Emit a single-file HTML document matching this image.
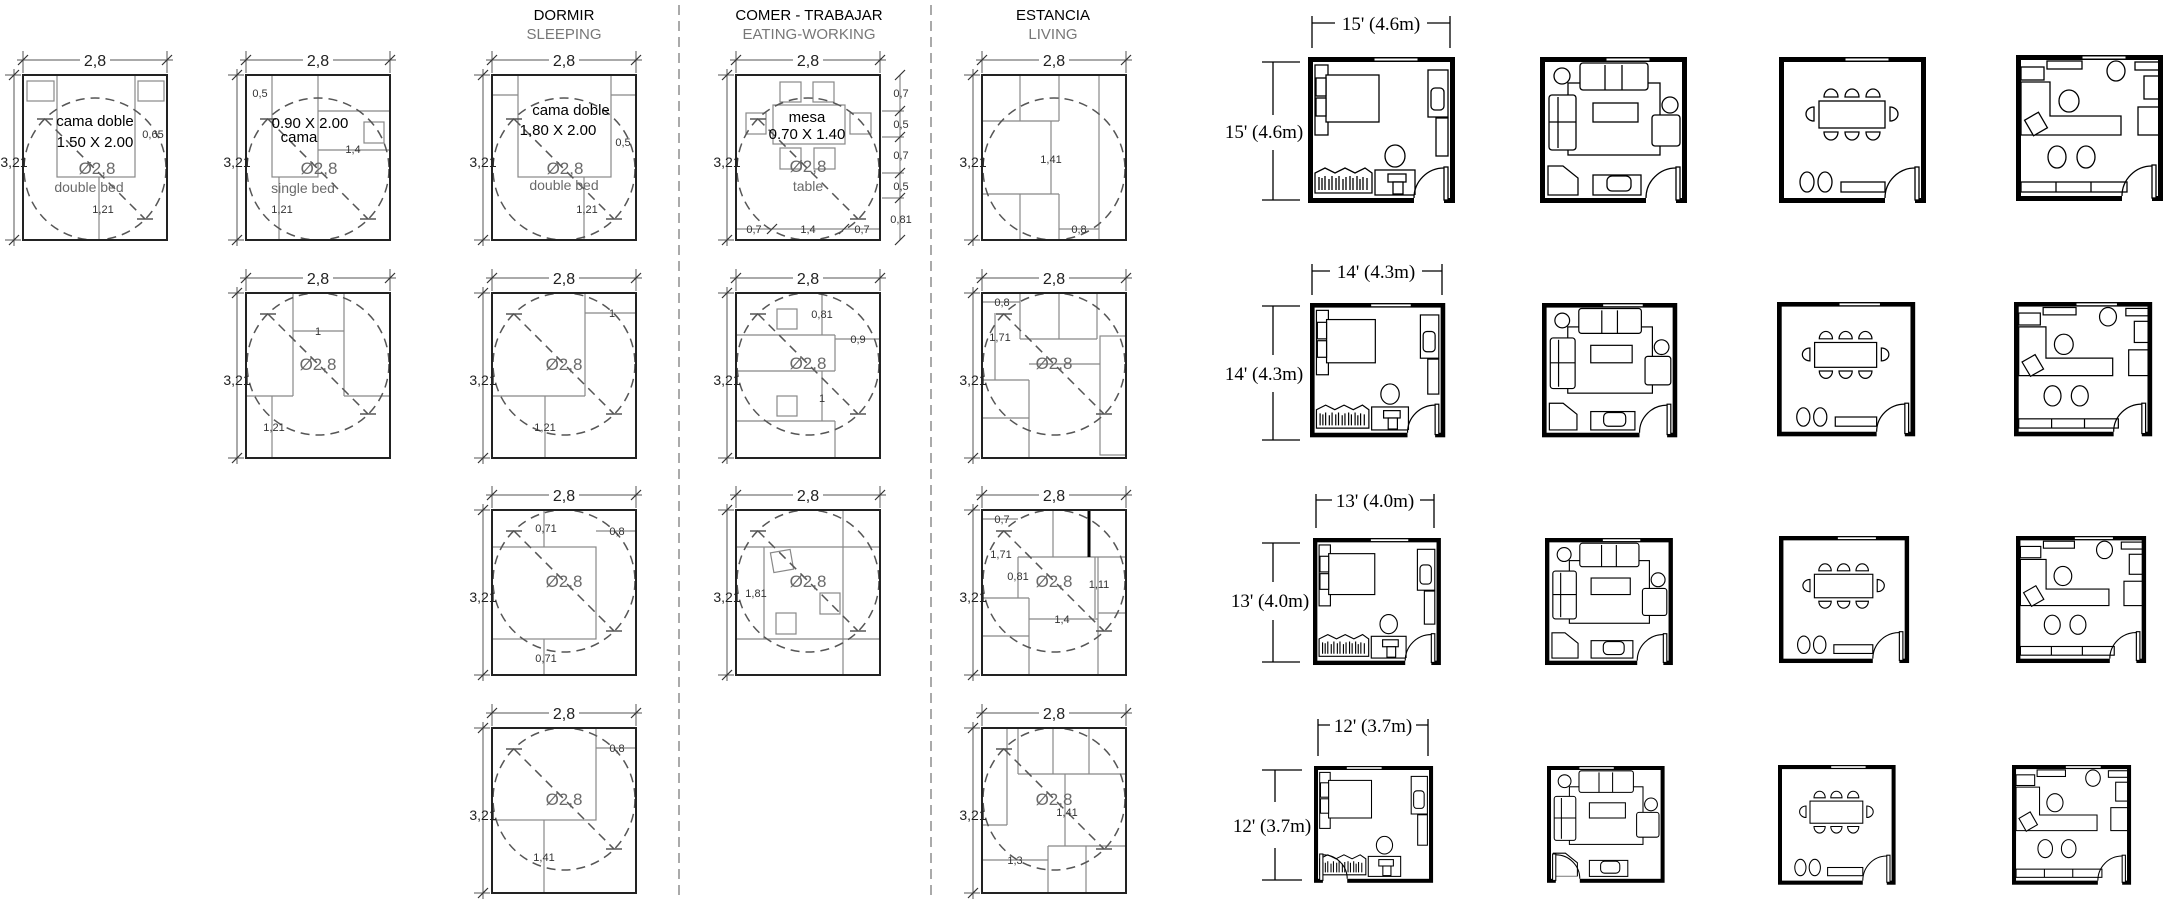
<!DOCTYPE html>
<html><head><meta charset="utf-8">
<style>
html,body{margin:0;padding:0;background:#fff;}
svg{display:block;}
text{font-family:"Liberation Sans",sans-serif;}
.s{font-family:"Liberation Serif",serif;font-size:19px;fill:#000;}
.d{font-size:16px;fill:#222;text-anchor:middle;}
.v{font-size:14px;fill:#222;text-anchor:middle;}
.g{font-size:17px;fill:#6a6a6a;text-anchor:middle;}
.gs{font-size:14px;fill:#6a6a6a;text-anchor:middle;}
.k{font-size:15px;fill:#000;text-anchor:middle;}
.m{font-size:11px;fill:#333;text-anchor:middle;}
.il line,.il rect,.il polyline{stroke:#888;stroke-width:1.2;fill:none;}
.f *{stroke:#000;stroke-width:1.3;fill:#fff;}
</style></head>
<body>
<svg width="2168" height="904" viewBox="0 0 2168 904" xmlns="http://www.w3.org/2000/svg">
<defs>
 <line id="tk" x1="-5" y1="5" x2="5" y2="-5" stroke="#333" stroke-width="1.2"/>
 <g id="B">
  <line x1="-6" y1="-15" x2="150" y2="-15" stroke="#555" stroke-width="1"/>
  <line x1="0" y1="-24" x2="0" y2="-2" stroke="#555"/>
  <line x1="144" y1="-24" x2="144" y2="-2" stroke="#555"/>
  <use href="#tk" x="0" y="-15"/><use href="#tk" x="144" y="-15"/>
  <line x1="-9" y1="-6" x2="-9" y2="171" stroke="#555"/>
  <line x1="-18" y1="0" x2="-2" y2="0" stroke="#555"/>
  <line x1="-18" y1="165" x2="-2" y2="165" stroke="#555"/>
  <use href="#tk" x="-9" y="0"/><use href="#tk" x="-9" y="165"/>
  <rect x="57" y="-24" width="30" height="17" fill="#fff"/>
  <rect x="0" y="0" width="144" height="165" fill="none" stroke="#222" stroke-width="2"/>
 </g>
 <g id="CB" fill="none" stroke="#555" stroke-width="1.5">
  <ellipse cx="72" cy="94" rx="71" ry="71" stroke-dasharray="9 6"/>
  <line x1="22" y1="44" x2="122" y2="144" stroke-dasharray="9 6"/>
  <line x1="14" y1="44" x2="30" y2="44"/><line x1="114" y1="144" x2="130" y2="144"/>
 </g>
 <g id="CT" fill="none" stroke="#555" stroke-width="1.5">
  <ellipse cx="72" cy="71" rx="71" ry="71" stroke-dasharray="9 6"/>
  <line x1="22" y1="21" x2="122" y2="121" stroke-dasharray="9 6"/>
  <line x1="14" y1="21" x2="30" y2="21"/><line x1="114" y1="121" x2="130" y2="121"/>
 </g>
 <ellipse id="CO" cx="72" cy="94" rx="71" ry="71" fill="none" stroke="#555" stroke-width="1.5" stroke-dasharray="9 6"/>

 <g id="W">
  <rect x="2.5" y="2.5" width="142" height="141" fill="none" stroke="#000" stroke-width="5"/>
  <rect x="106" y="138" width="30" height="9" fill="#fff"/>
  <rect x="136" y="110" width="4" height="33" fill="#fff" stroke="#000" stroke-width="1.3"/>
  <path d="M106,141 A30,30 0 0 1 136,111" fill="none" stroke="#000" stroke-width="1.3"/>
  <rect x="66" y="1" width="44" height="3" fill="#fff" stroke="#000" stroke-width="1"/>
 </g>
 <g id="WL">
  <rect x="2.5" y="2.5" width="142" height="141" fill="none" stroke="#000" stroke-width="5"/>
  <rect x="11" y="138" width="30" height="9" fill="#fff"/>
  <rect x="7" y="110" width="4" height="33" fill="#fff" stroke="#000" stroke-width="1.3"/>
  <path d="M41,141 A30,30 0 0 0 11,111" fill="none" stroke="#000" stroke-width="1.3"/>
  <rect x="40" y="1" width="44" height="3" fill="#fff" stroke="#000" stroke-width="1"/>
 </g>
 <g id="F1" class="f">
  <rect x="7" y="8" width="13" height="70"/>
  <rect x="18" y="18" width="53" height="47"/>
  <rect x="8" y="21" width="10" height="18"/><rect x="8" y="41" width="10" height="18"/>
  <rect x="120" y="13" width="20" height="47"/>
  <rect x="123" y="31" width="13" height="22" rx="4"/>
  <rect x="128" y="61" width="12" height="38"/>
  <ellipse cx="87" cy="99" rx="10" ry="11"/>
  <rect x="67" y="113" width="40" height="25"/>
  <rect x="80" y="117" width="18" height="8"/><rect x="85" y="125" width="10" height="12"/>
  <path d="M7,136 V116 L17,111 L27,116 L37,111 L47,116 L57,111 L64,116 V136 Z"/>
  <path d="M11,120V133M14,121V133M17,119V133M21,122V133M24,119V133M28,121V133M31,119V133M35,122V133M38,120V133M42,119V133M45,121V133M49,119V133M52,122V133M55,120V133M59,121V133" fill="none"/>
 </g>
 <g id="F2" class="f">
  <rect x="28" y="26" width="92" height="72" fill="none"/>
  <rect x="40" y="6" width="68" height="27" rx="3"/>
  <line x1="65" y1="8" x2="65" y2="33"/><line x1="82" y1="8" x2="82" y2="33"/>
  <circle cx="22" cy="19" r="8"/>
  <rect x="9" y="38" width="27" height="55" rx="3"/>
  <line x1="18" y1="40" x2="18" y2="91"/><line x1="9" y1="65" x2="36" y2="65"/>
  <rect x="53" y="46" width="45" height="19"/>
  <rect x="112" y="58" width="28" height="31" rx="3"/>
  <circle cx="130" cy="48" r="8"/>
  <polygon points="8,109 23,109 38,121 38,138 8,138"/>
  <rect x="53" y="118" width="48" height="20"/>
  <rect x="67" y="119" width="24" height="15" rx="5"/>
 </g>
 <g id="F3" class="f">
  <rect x="40" y="44" width="66" height="27"/>
  <path d="M45,40 A7,8 0 0 1 59,40 Z"/><path d="M66,40 A7,8 0 0 1 80,40 Z"/><path d="M87,40 A7,8 0 0 1 101,40 Z"/>
  <path d="M45,75 A7,8 0 0 0 59,75 Z"/><path d="M66,75 A7,8 0 0 0 80,75 Z"/><path d="M87,75 A7,8 0 0 0 101,75 Z"/>
  <path d="M35,50 A8,7 0 0 0 35,64 Z"/><path d="M111,50 A8,7 0 0 1 111,64 Z"/>
  <ellipse cx="28" cy="125" rx="7" ry="10"/><ellipse cx="46" cy="125" rx="7" ry="10"/>
  <rect x="62" y="125" width="44" height="10"/>
 </g>
 <g id="F4" class="f">
  <rect x="5" y="12" width="23" height="13"/>
  <rect x="31" y="6" width="35" height="8"/>
  <ellipse cx="100" cy="16" rx="9" ry="10"/>
  <rect x="119" y="7" width="26" height="8"/>
  <rect x="128" y="21" width="17" height="23"/>
  <path d="M5,27 H34 V61 H105 V80 H5 Z"/>
  <ellipse cx="53" cy="46" rx="10" ry="11"/>
  <rect x="12" y="60" width="16" height="18" transform="rotate(-30 20 69)"/>
  <rect x="122" y="52" width="21" height="28"/>
  <ellipse cx="41" cy="102" rx="9" ry="11"/><ellipse cx="70" cy="102" rx="9" ry="11"/>
  <rect x="5" y="127" width="106" height="10"/>
  <line x1="40" y1="127" x2="40" y2="137"/><line x1="75" y1="127" x2="75" y2="137"/>
 </g>
</defs>

<!-- headers -->
<text x="564" y="20" style="font-size:15px;fill:#000" text-anchor="middle">DORMIR</text>
<text x="564" y="39" style="font-size:15px;fill:#777" text-anchor="middle">SLEEPING</text>
<text x="809" y="20" style="font-size:15px;fill:#000" text-anchor="middle">COMER - TRABAJAR</text>
<text x="809" y="39" style="font-size:15px;fill:#777" text-anchor="middle">EATING-WORKING</text>
<text x="1053" y="20" style="font-size:15px;fill:#000" text-anchor="middle">ESTANCIA</text>
<text x="1053" y="39" style="font-size:15px;fill:#777" text-anchor="middle">LIVING</text>
<line x1="679" y1="5" x2="679" y2="900" stroke="#aaa" stroke-width="2" stroke-dasharray="10 6"/>
<line x1="931" y1="5" x2="931" y2="900" stroke="#aaa" stroke-width="2" stroke-dasharray="10 6"/>

<!-- R1C1 -->
<g transform="translate(23,75)">
 <g class="il"><rect x="4" y="6" width="27" height="20"/><rect x="115" y="6" width="26" height="20"/><rect x="34" y="0" width="78" height="102"/><line x1="76" y1="102" x2="76" y2="165"/></g>
 <use href="#CB"/><use href="#B"/>
 <text class="d" x="72" y="-9">2,8</text><text class="v" x="-9" y="92">3,21</text>
 <text class="k" x="72" y="51">cama doble</text><text class="k" x="72" y="72">1.50 X 2.00</text>
 <text class="g" x="74" y="99">Ø2,8</text><text class="gs" x="66" y="117">double bed</text>
 <text class="m" x="130" y="63">0,65</text><text class="m" x="80" y="138">1,21</text>
</g>
<!-- R1C2 -->
<g transform="translate(246,75)">
 <g class="il"><rect x="26" y="0" width="46" height="102"/><line x1="72" y1="36" x2="144" y2="36"/><rect x="118" y="47" width="20" height="21"/><line x1="72" y1="75" x2="144" y2="75"/><line x1="33" y1="102" x2="33" y2="165"/></g>
 <use href="#CB"/><use href="#B"/>
 <text class="d" x="72" y="-9">2,8</text><text class="v" x="-9" y="92">3,21</text>
 <text class="m" x="14" y="22">0,5</text>
 <text class="k" x="64" y="53">0.90 X 2.00</text><text class="k" x="53" y="67">cama</text>
 <text class="m" x="107" y="78">1,4</text>
 <text class="g" x="73" y="99">Ø2,8</text><text class="gs" x="57" y="118">single bed</text>
 <text class="m" x="36" y="138">1,21</text>
</g>
<!-- R1C3 -->
<g transform="translate(492,75)">
 <g class="il"><rect x="26" y="0" width="93" height="102"/><line x1="0" y1="20" x2="26" y2="20"/><line x1="119" y1="20" x2="144" y2="20"/><line x1="92" y1="102" x2="92" y2="165"/></g>
 <use href="#CB"/><use href="#B"/>
 <text class="d" x="72" y="-9">2,8</text><text class="v" x="-9" y="92">3,21</text>
 <text class="k" x="79" y="40">cama doble</text><text class="k" x="66" y="60">1,80 X 2.00</text>
 <text class="m" x="131" y="71">0,5</text>
 <text class="g" x="73" y="99">Ø2,8</text><text class="gs" x="72" y="115">double bed</text>
 <text class="m" x="95" y="138">1,21</text>
</g>
<!-- R1C4 -->
<g transform="translate(736,75)">
 <g class="il"><rect x="44" y="7" width="21" height="20"/><rect x="77" y="7" width="21" height="20"/><rect x="10" y="38" width="20" height="21"/><rect x="114" y="38" width="21" height="21"/><rect x="44" y="73" width="21" height="21"/><rect x="78" y="73" width="21" height="21"/><rect x="37" y="30" width="72" height="39" style="fill:#fff"/>
 <line x1="164" y1="0" x2="164" y2="165"/><line x1="146" y1="36" x2="168" y2="36"/><line x1="146" y1="62" x2="168" y2="62"/><line x1="146" y1="98" x2="168" y2="98"/><line x1="146" y1="123" x2="168" y2="123"/>
 <line x1="0" y1="154" x2="144" y2="154"/></g>
 <use href="#tk" x="164" y="0"/><use href="#tk" x="164" y="36"/><use href="#tk" x="164" y="62"/><use href="#tk" x="164" y="98"/><use href="#tk" x="164" y="123"/><use href="#tk" x="164" y="165"/>
 <use href="#tk" x="36" y="154"/><use href="#tk" x="108" y="154"/>
 <use href="#CB"/><use href="#B"/>
 <text class="d" x="72" y="-9">2,8</text><text class="v" x="-9" y="92">3,21</text>
 <text class="k" x="71" y="47">mesa</text><text class="k" x="71" y="64">0.70 X 1.40</text>
 <text class="g" x="72" y="97">Ø2,8</text><text class="gs" x="72" y="116">table</text>
 <text class="m" x="165" y="22">0,7</text><text class="m" x="165" y="53">0,5</text><text class="m" x="165" y="84">0,7</text><text class="m" x="165" y="115">0,5</text><text class="m" x="165" y="148">0,81</text>
 <text class="m" x="18" y="158">0,7</text><text class="m" x="72" y="158">1,4</text><text class="m" x="126" y="158">0,7</text>
</g>
<!-- R1C5 -->
<g transform="translate(982,75)">
 <g class="il"><line x1="38" y1="0" x2="38" y2="46"/><line x1="77" y1="0" x2="77" y2="46"/><line x1="117" y1="0" x2="117" y2="165"/><line x1="0" y1="46" x2="77" y2="46"/><line x1="0" y1="119" x2="77" y2="119"/><line x1="38" y1="119" x2="38" y2="165"/><line x1="77" y1="119" x2="77" y2="165"/><line x1="69" y1="46" x2="69" y2="119"/><line x1="77" y1="154" x2="117" y2="154"/></g>
 <use href="#CO"/><use href="#B"/>
 <text class="d" x="72" y="-9">2,8</text><text class="v" x="-9" y="92">3,21</text>
 <text class="m" x="69" y="88">1,41</text><text class="m" x="97" y="158">0,8</text>
</g>

<!-- R2C2 -->
<g transform="translate(246,293)">
 <g class="il"><line x1="47" y1="0" x2="47" y2="103"/><line x1="0" y1="103" x2="47" y2="103"/><line x1="98" y1="0" x2="98" y2="103"/><line x1="98" y1="103" x2="144" y2="103"/><line x1="47" y1="38" x2="98" y2="38"/><line x1="26" y1="103" x2="26" y2="165"/></g>
 <use href="#CT"/><use href="#B"/>
 <text class="d" x="72" y="-9">2,8</text><text class="v" x="-9" y="92">3,21</text>
 <text class="m" x="72" y="42">1</text><text class="g" x="72" y="77">Ø2,8</text><text class="m" x="28" y="138">1,21</text>
</g>
<!-- R2C3 -->
<g transform="translate(492,293)">
 <g class="il"><line x1="93" y1="0" x2="93" y2="103"/><line x1="0" y1="103" x2="93" y2="103"/><line x1="93" y1="20" x2="144" y2="20"/><line x1="53" y1="103" x2="53" y2="165"/></g>
 <use href="#CT"/><use href="#B"/>
 <text class="d" x="72" y="-9">2,8</text><text class="v" x="-9" y="92">3,21</text>
 <text class="m" x="120" y="24">1</text><text class="g" x="72" y="77">Ø2,8</text><text class="m" x="53" y="138">1,21</text>
</g>
<!-- R2C4 -->
<g transform="translate(736,293)">
 <g class="il"><rect x="41" y="16" width="20" height="20"/><rect x="41" y="103" width="20" height="20"/><line x1="0" y1="42" x2="99" y2="42"/><line x1="99" y1="42" x2="99" y2="78"/><line x1="0" y1="78" x2="99" y2="78"/><line x1="0" y1="128" x2="99" y2="128"/><line x1="99" y1="128" x2="99" y2="165"/><line x1="86" y1="0" x2="86" y2="42"/><line x1="99" y1="46" x2="144" y2="46"/><line x1="86" y1="78" x2="86" y2="128"/></g>
 <use href="#CT"/><use href="#B"/>
 <text class="d" x="72" y="-9">2,8</text><text class="v" x="-9" y="92">3,21</text>
 <text class="m" x="86" y="25">0,81</text><text class="m" x="122" y="50">0,9</text><text class="m" x="86" y="109">1</text><text class="g" x="72" y="76">Ø2,8</text>
</g>
<!-- R2C5 -->
<g transform="translate(982,293)">
 <g class="il"><line x1="38" y1="0" x2="38" y2="46"/><line x1="77" y1="0" x2="77" y2="46"/><line x1="115" y1="0" x2="115" y2="46"/><line x1="38" y1="46" x2="115" y2="46"/><rect x="118" y="43" width="26" height="119"/><line x1="0" y1="87" x2="47" y2="87"/><line x1="47" y1="87" x2="47" y2="165"/><line x1="0" y1="125" x2="47" y2="125"/><line x1="0" y1="9" x2="38" y2="9"/><line x1="13" y1="20" x2="13" y2="87"/><line x1="47" y1="71" x2="118" y2="71"/></g>
 <use href="#CT"/><use href="#B"/>
 <text class="d" x="72" y="-9">2,8</text><text class="v" x="-9" y="92">3,21</text>
 <text class="m" x="20" y="13">0,8</text><text class="m" x="18" y="48">1,71</text><text class="g" x="72" y="76">Ø2,8</text>
</g>

<!-- R3C3 -->
<g transform="translate(492,510)">
 <g class="il"><rect x="0" y="37" width="104" height="92"/><line x1="52" y1="0" x2="52" y2="37"/><line x1="52" y1="129" x2="52" y2="165"/><line x1="104" y1="21" x2="144" y2="21"/></g>
 <use href="#CT"/><use href="#B"/>
 <text class="d" x="72" y="-9">2,8</text><text class="v" x="-9" y="92">3,21</text>
 <text class="m" x="54" y="22">0,71</text><text class="m" x="54" y="152">0,71</text><text class="m" x="125" y="25">0,8</text><text class="g" x="72" y="77">Ø2,8</text>
</g>
<!-- R3C4 -->
<g transform="translate(736,510)">
 <g class="il"><line x1="0" y1="37" x2="144" y2="37"/><line x1="0" y1="129" x2="144" y2="129"/><line x1="107" y1="0" x2="107" y2="165"/><line x1="28" y1="37" x2="28" y2="129"/><rect x="36" y="41" width="20" height="20" transform="rotate(-10 46 51)"/><rect x="84" y="83" width="20" height="21"/><rect x="40" y="103" width="20" height="21"/></g>
 <use href="#CT"/><use href="#B"/>
 <text class="d" x="72" y="-9">2,8</text><text class="v" x="-9" y="92">3,21</text>
 <text class="m" x="20" y="87">1,81</text><text class="g" x="72" y="77">Ø2,8</text>
</g>
<!-- R3C5 -->
<g transform="translate(982,510)">
 <g class="il"><line x1="71" y1="0" x2="71" y2="47"/><line x1="36" y1="47" x2="144" y2="47"/><line x1="0" y1="88" x2="47" y2="88"/><line x1="47" y1="88" x2="47" y2="165"/><line x1="0" y1="126" x2="47" y2="126"/><line x1="116" y1="47" x2="116" y2="165"/><line x1="116" y1="103" x2="144" y2="103"/><line x1="0" y1="9" x2="36" y2="9"/><line x1="36" y1="47" x2="36" y2="88"/><line x1="113" y1="47" x2="113" y2="108"/><line x1="47" y1="109" x2="116" y2="109"/></g>
 <line x1="107" y1="0" x2="107" y2="47" stroke="#000" stroke-width="3"/>
 <use href="#CT"/><use href="#B"/>
 <text class="d" x="72" y="-9">2,8</text><text class="v" x="-9" y="92">3,21</text>
 <text class="m" x="20" y="13">0,7</text><text class="m" x="19" y="48">1,71</text><text class="m" x="36" y="70">0,81</text><text class="m" x="117" y="78">1,11</text><text class="m" x="80" y="113">1,4</text><text class="g" x="72" y="77">Ø2,8</text>
</g>
<!-- R4C3 -->
<g transform="translate(492,728)">
 <g class="il"><rect x="0" y="0" width="104" height="92"/><line x1="52" y1="92" x2="52" y2="165"/><line x1="104" y1="20" x2="144" y2="20"/></g>
 <use href="#CT"/><use href="#B"/>
 <text class="d" x="72" y="-9">2,8</text><text class="v" x="-9" y="92">3,21</text>
 <text class="m" x="125" y="24">0,8</text><text class="m" x="52" y="133">1,41</text><text class="g" x="72" y="77">Ø2,8</text>
</g>
<!-- R4C5 -->
<g transform="translate(982,728)">
 <g class="il"><line x1="25" y1="0" x2="25" y2="97"/><line x1="0" y1="97" x2="25" y2="97"/><line x1="36" y1="0" x2="36" y2="46"/><line x1="36" y1="46" x2="144" y2="46"/><line x1="71" y1="0" x2="71" y2="46"/><line x1="107" y1="0" x2="107" y2="46"/><line x1="66" y1="118" x2="66" y2="165"/><line x1="66" y1="118" x2="144" y2="118"/><line x1="104" y1="118" x2="104" y2="165"/><line x1="83" y1="46" x2="83" y2="118"/><line x1="0" y1="132" x2="66" y2="132"/></g>
 <use href="#CT"/><use href="#B"/>
 <text class="d" x="72" y="-9">2,8</text><text class="v" x="-9" y="92">3,21</text>
 <text class="g" x="72" y="77">Ø2,8</text><text class="m" x="85" y="88">1,41</text><text class="m" x="33" y="136">1,3</text>
</g>

<!-- RIGHT: dimension labels -->
<g stroke="#000" stroke-width="1.3" fill="none">
 <line x1="1312" y1="23" x2="1450" y2="23"/><line x1="1312" y1="16" x2="1312" y2="48"/><line x1="1450" y1="16" x2="1450" y2="48"/>
 <line x1="1273" y1="62" x2="1273" y2="115"/><line x1="1273" y1="150" x2="1273" y2="200"/><line x1="1262" y1="62" x2="1300" y2="62"/><line x1="1262" y1="200" x2="1300" y2="200"/>
 <line x1="1312" y1="271" x2="1442" y2="271"/><line x1="1312" y1="264" x2="1312" y2="295"/><line x1="1442" y1="264" x2="1442" y2="295"/>
 <line x1="1273" y1="306" x2="1273" y2="355"/><line x1="1273" y1="392" x2="1273" y2="440"/><line x1="1262" y1="306" x2="1300" y2="306"/><line x1="1262" y1="440" x2="1300" y2="440"/>
 <line x1="1316" y1="500" x2="1434" y2="500"/><line x1="1316" y1="494" x2="1316" y2="528"/><line x1="1434" y1="494" x2="1434" y2="528"/>
 <line x1="1273" y1="543" x2="1273" y2="582"/><line x1="1273" y1="620" x2="1273" y2="662"/><line x1="1262" y1="543" x2="1300" y2="543"/><line x1="1262" y1="662" x2="1300" y2="662"/>
 <line x1="1318" y1="725" x2="1428" y2="725"/><line x1="1318" y1="719" x2="1318" y2="756"/><line x1="1428" y1="719" x2="1428" y2="756"/>
 <line x1="1275" y1="770" x2="1275" y2="802"/><line x1="1275" y1="848" x2="1275" y2="880"/><line x1="1262" y1="770" x2="1302" y2="770"/><line x1="1262" y1="880" x2="1302" y2="880"/>
</g>
<g fill="#fff">
 <rect x="1335" y="12" width="92" height="22"/><rect x="1330" y="260" width="92" height="22"/><rect x="1332" y="489" width="88" height="22"/><rect x="1330" y="714" width="86" height="22"/>
</g>
<text class="s" x="1381" y="30" text-anchor="middle">15' (4.6m)</text>
<text class="s" x="1264" y="138" text-anchor="middle">15' (4.6m)</text>
<text class="s" x="1376" y="278" text-anchor="middle">14' (4.3m)</text>
<text class="s" x="1264" y="380" text-anchor="middle">14' (4.3m)</text>
<text class="s" x="1375" y="507" text-anchor="middle">13' (4.0m)</text>
<text class="s" x="1270" y="607" text-anchor="middle">13' (4.0m)</text>
<text class="s" x="1373" y="732" text-anchor="middle">12' (3.7m)</text>
<text class="s" x="1272" y="832" text-anchor="middle">12' (3.7m)</text>

<!-- RIGHT: rooms -->
<g transform="translate(1308,57)"><use href="#F1"/><use href="#W"/></g>
<g transform="translate(1540,57)"><use href="#F2"/><use href="#W"/></g>
<g transform="translate(1779,57)"><use href="#F3"/><use href="#W"/></g>
<g transform="translate(2016,55)"><use href="#F4"/><use href="#W"/></g>

<g transform="translate(1310,303) scale(0.92)"><use href="#F1"/><use href="#W"/></g>
<g transform="translate(1542,303) scale(0.92)"><use href="#F2"/><use href="#W"/></g>
<g transform="translate(1777,302) scale(0.94 0.92)"><use href="#F3"/><use href="#W"/></g>
<g transform="translate(2014,302) scale(0.94 0.92)"><use href="#F4"/><use href="#W"/></g>

<g transform="translate(1313,538) scale(0.87)"><use href="#F1"/><use href="#W"/></g>
<g transform="translate(1545,538) scale(0.87)"><use href="#F2"/><use href="#W"/></g>
<g transform="translate(1779,536) scale(0.885 0.87)"><use href="#F3"/><use href="#W"/></g>
<g transform="translate(2016,536) scale(0.885 0.87)"><use href="#F4"/><use href="#W"/></g>

<g transform="translate(1314,766) scale(0.81 0.80)"><use href="#F1"/><use href="#WL"/></g>
<g transform="translate(1547,766) scale(0.80)"><use href="#F2"/><use href="#WL"/></g>
<g transform="translate(1778,765) scale(0.80 0.82)"><use href="#F3"/><use href="#W"/></g>
<g transform="translate(2012,765) scale(0.81 0.82)"><use href="#F4"/><use href="#W"/></g>
</svg>
</body></html>
